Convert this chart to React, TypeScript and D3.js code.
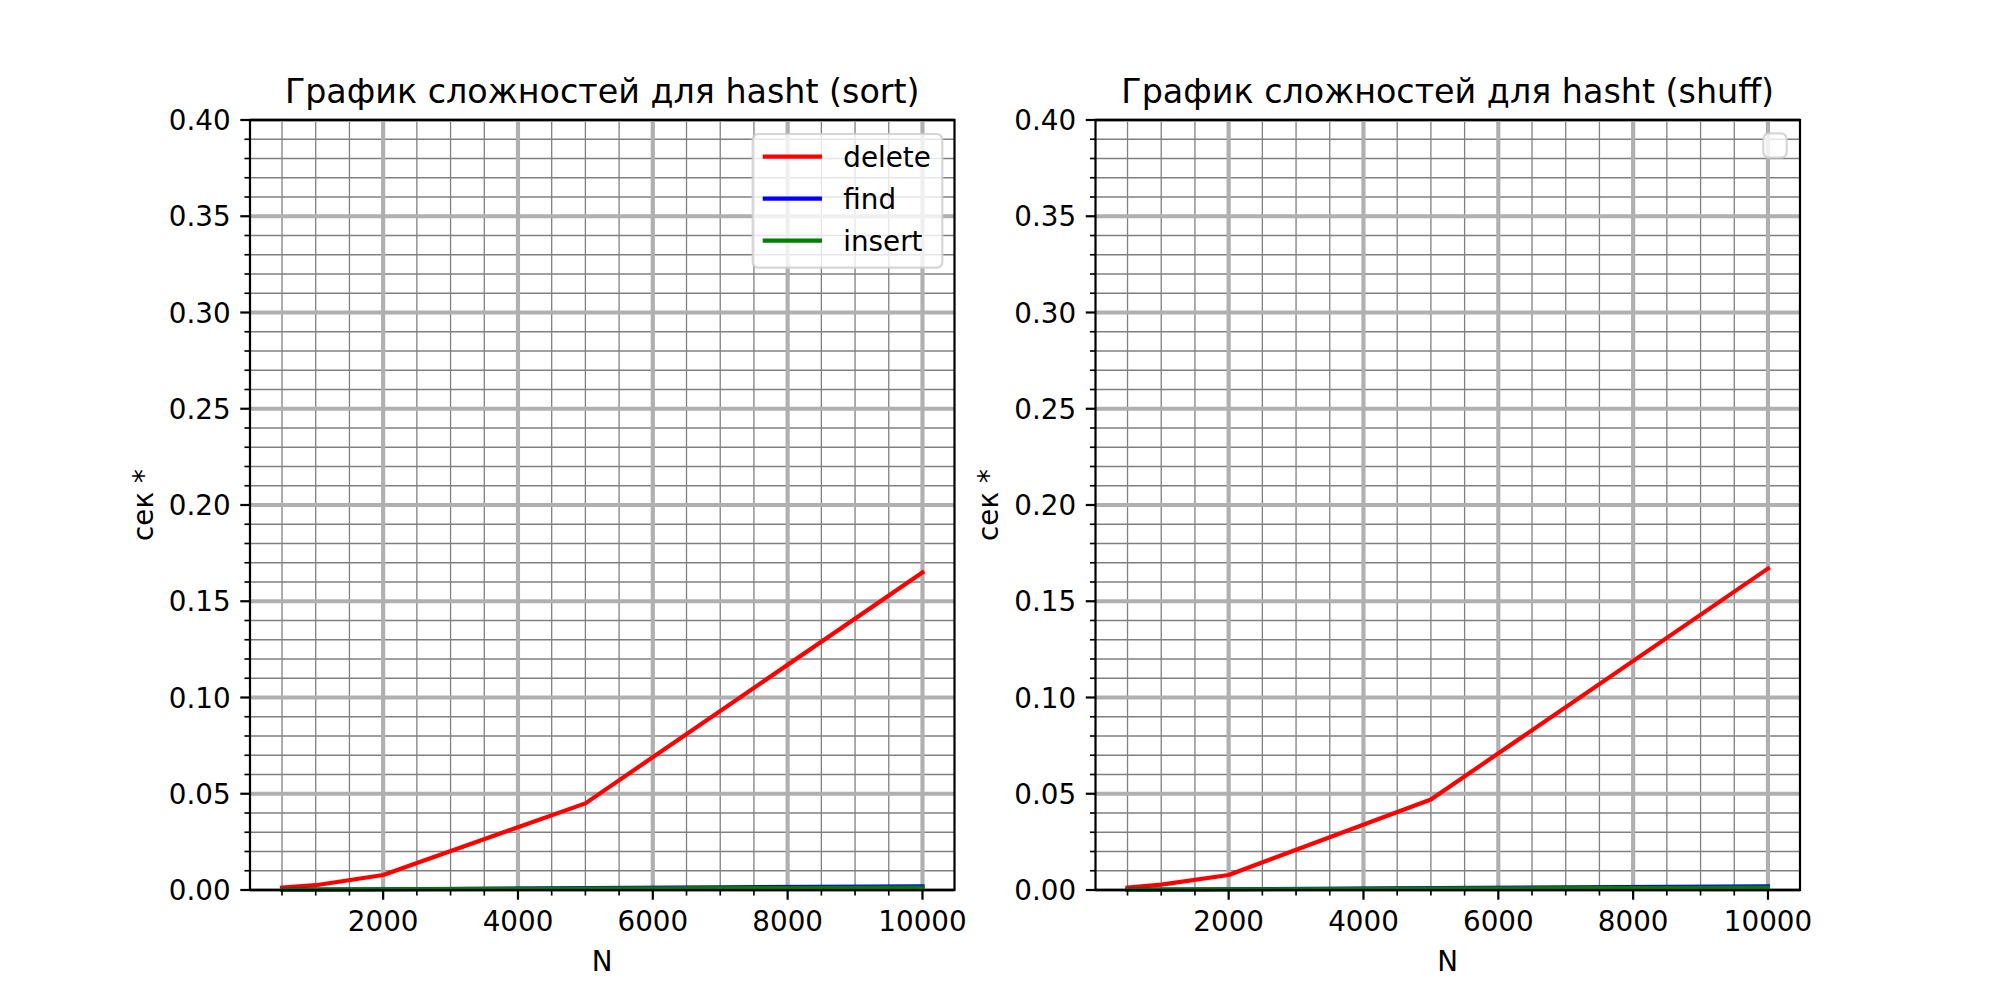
import React from 'react';
import * as d3 from 'd3';

const N = [500, 1000, 2000, 5000, 10000];
const sortDelete = [0.0012, 0.0025, 0.0078, 0.045, 0.165];
const sortFind = [0.0001, 0.0002, 0.0004, 0.001, 0.0019];
const sortInsert = [0.0001, 0.0002, 0.0003, 0.0007, 0.0012];
const shuffDelete = [0.0012, 0.0028, 0.0078, 0.047, 0.167];
const shuffFind = [0.0001, 0.0002, 0.0004, 0.001, 0.0019];
const shuffInsert = [0.0001, 0.0002, 0.0003, 0.0007, 0.0012];

const seriesNames = ['delete', 'find', 'insert'];
const seriesColors = ['#ff0000', '#0000ff', '#008000'];
const titles = ['График сложностей для hasht (sort)', 'График сложностей для hasht (shuff)'];
const xMajorTicks = [2000, 4000, 6000, 8000, 10000];
const yMajorTicks = [0, 0.05, 0.1, 0.15, 0.2, 0.25, 0.3, 0.35, 0.4];
const xLabel = 'N';
const yLabel = 'сек *';

const W = 2000;
const H = 1000;
const TOP = 120;
const BOTTOM = 890;
const FONT = '"DejaVu Sans", sans-serif';
const FS = 27.78;
const TFS = 33.33;

type PanelProps = {
  left: number;
  right: number;
  title: string;
  series: number[][];
  showLegend: boolean;
};

function Panel({ left, right, title, series, showLegend }: PanelProps) {
  const xmin = d3.min(N) as number;
  const xmax = d3.max(N) as number;
  const pad = (xmax - xmin) * 0.05;
  const x = d3.scaleLinear().domain([xmin - pad, xmax + pad]).range([left, right]);
  const y = d3.scaleLinear().domain([0, 0.4]).range([BOTTOM, TOP]);

  const xMinor = d3.range(500, xmax + pad, 500).filter((v) => v % 2000 !== 0 && v >= xmin - pad);
  const yMinor = d3
    .range(1, 40)
    .filter((i) => i % 5 !== 0)
    .map((i) => i / 100);

  const line = d3
    .line<number>()
    .x((_, i) => x(N[i]))
    .y((d) => y(d));

  const cx = (left + right) / 2;
  const cy = (TOP + BOTTOM) / 2;
  const fmt = d3.format('.2f');

  return (
    <g>
      {/* minor grid */}
      {xMinor.map((v) => (
        <line key={'xm' + v} x1={x(v)} x2={x(v)} y1={TOP} y2={BOTTOM} stroke="#808080" strokeWidth={1.3} />
      ))}
      {yMinor.map((v) => (
        <line key={'ym' + v} x1={left} x2={right} y1={y(v)} y2={y(v)} stroke="#808080" strokeWidth={1.3} />
      ))}
      {/* major grid */}
      {xMajorTicks.map((v) => (
        <line key={'xg' + v} x1={x(v)} x2={x(v)} y1={TOP} y2={BOTTOM} stroke="#b0b0b0" strokeWidth={4.17} />
      ))}
      {yMajorTicks.map((v) => (
        <line key={'yg' + v} x1={left} x2={right} y1={y(v)} y2={y(v)} stroke="#b0b0b0" strokeWidth={4.17} />
      ))}
      {/* series */}
      {series.map((s, i) => (
        <path key={'s' + i} d={line(s) || ''} fill="none" stroke={seriesColors[i]} strokeWidth={4.17} strokeLinecap="square" strokeLinejoin="round" />
      ))}
      {/* frame */}
      <rect x={left} y={TOP} width={right - left} height={BOTTOM - TOP} fill="none" stroke="#000" strokeWidth={2.22} />
      {/* x ticks */}
      {xMajorTicks.map((v) => (
        <g key={'xt' + v}>
          <line x1={x(v)} x2={x(v)} y1={BOTTOM} y2={BOTTOM + 9.72} stroke="#000" strokeWidth={2.22} />
          <text x={x(v)} y={931} fontSize={FS} fontFamily={FONT} textAnchor="middle" fill="#000">
            {v}
          </text>
        </g>
      ))}
      {xMinor.map((v) => (
        <line key={'xmt' + v} x1={x(v)} x2={x(v)} y1={BOTTOM} y2={BOTTOM + 5.56} stroke="#000" strokeWidth={1.67} />
      ))}
      {/* y ticks */}
      {yMajorTicks.map((v) => (
        <g key={'yt' + v}>
          <line x1={left - 9.72} x2={left} y1={y(v)} y2={y(v)} stroke="#000" strokeWidth={2.22} />
          <text x={left - 19.44} y={y(v) + 10.1} fontSize={FS} fontFamily={FONT} textAnchor="end" fill="#000">
            {fmt(v)}
          </text>
        </g>
      ))}
      {yMinor.map((v) => (
        <line key={'ymt' + v} x1={left - 5.56} x2={left} y1={y(v)} y2={y(v)} stroke="#000" strokeWidth={1.67} />
      ))}
      {/* labels */}
      <text x={cx} y={970.7} fontSize={FS} fontFamily={FONT} textAnchor="middle" fill="#000">
        {xLabel}
      </text>
      <text
        transform={`translate(${left - 97.5},${cy}) rotate(-90)`}
        fontSize={FS}
        fontFamily={FONT}
        textAnchor="middle"
        fill="#000"
      >
        {yLabel}
      </text>
      <text x={cx} y={103.3} fontSize={TFS} fontFamily={FONT} textAnchor="middle" fill="#000">
        {title}
      </text>
      {/* legend */}
      {showLegend ? (
        <g>
          <rect
            x={right - 201.8}
            y={134}
            width={189.6}
            height={133.7}
            rx={5.6}
            ry={5.6}
            fill="#ffffff"
            fillOpacity={0.8}
            stroke="#cccccc"
            strokeOpacity={0.8}
            strokeWidth={2.22}
          />
          {seriesNames.map((name, i) => {
            const ly = 156.7 + i * 42;
            return (
              <g key={'lg' + name}>
                <line x1={right - 191.8} x2={right - 132.5} y1={ly} y2={ly} stroke={seriesColors[i]} strokeWidth={4.17} />
                <text x={right - 111.2} y={ly + 10} fontSize={FS} fontFamily={FONT} fill="#000">
                  {name}
                </text>
              </g>
            );
          })}
        </g>
      ) : (
        <rect
          x={right - 36.7}
          y={133.3}
          width={23.4}
          height={24.4}
          rx={5.6}
          ry={5.6}
          fill="#ffffff"
          fillOpacity={0.8}
          stroke="#cccccc"
          strokeOpacity={0.8}
          strokeWidth={2.22}
        />
      )}
    </g>
  );
}

export default function App() {
  return (
    <svg
      width={W}
      height={H}
      viewBox={`0 0 ${W} ${H}`}
      style={{ position: 'absolute', left: 0, top: 0, background: '#fff' }}
    >
      <rect x={0} y={0} width={W} height={H} fill="#fff" />
      <Panel left={250} right={954.5} title={titles[0]} series={[sortDelete, sortFind, sortInsert]} showLegend={true} />
      <Panel left={1095.5} right={1800} title={titles[1]} series={[shuffDelete, shuffFind, shuffInsert]} showLegend={false} />
    </svg>
  );
}
